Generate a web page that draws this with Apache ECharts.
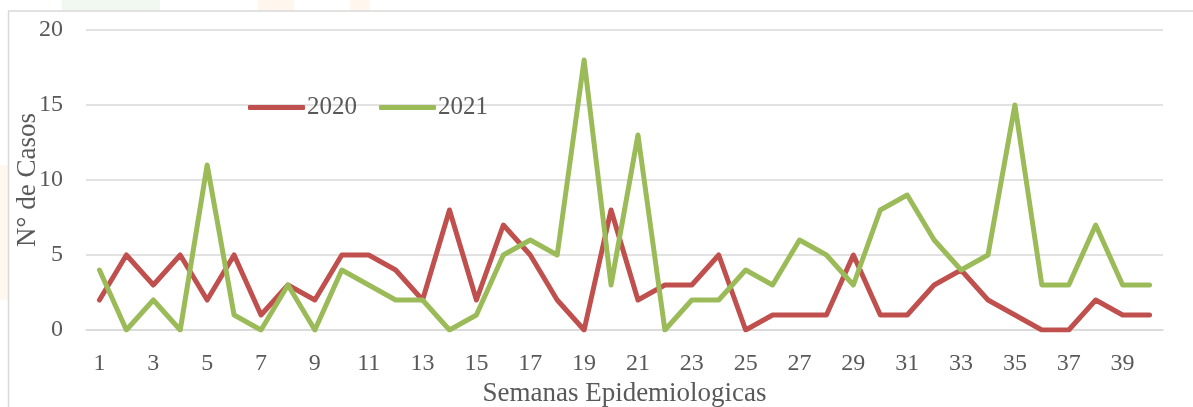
<!DOCTYPE html>
<html>
<head>
<meta charset="utf-8">
<script src="https://cdn.jsdelivr.net/npm/echarts@6/dist/echarts.min.js"></script>
<style>
html,body{margin:0;padding:0;background:#fff;}
#chart{width:1193px;height:407px;}
</style>
</head>
<body>
<div id="chart"></div>
<script>
const weeks = Array.from({length: 40}, (_, i) => String(i + 1));
const cases2020 = [2,5,3,5,2,5,1,3,2,5,5,4,2,8,2,7,5,2,0,8,2,3,3,5,0,1,1,1,5,1,1,3,4,2,1,0,0,2,1,1];
const cases2021 = [4,0,2,0,11,1,0,3,0,4,3,2,2,0,1,5,6,5,18,3,13,0,2,2,4,3,6,5,3,8,9,6,4,5,15,3,3,7,3,3];
const yTicks = [0, 5, 10, 15, 20];

const FONT = 'Liberation Serif';
const TXT = '#595959';
const chart = echarts.init(document.getElementById('chart'), null, {renderer: 'canvas'});
chart.setOption({
  animation: false,
  backgroundColor: '#ffffff',
  graphic: [
    {type: 'rect', shape: {x: 62, y: 0, width: 98, height: 11}, style: {fill: '#f1f8f1'}, z: -10},
    {type: 'rect', shape: {x: 258, y: 0, width: 36, height: 11}, style: {fill: '#fff7ee'}, z: -10},
    {type: 'rect', shape: {x: 350, y: 0, width: 20, height: 11}, style: {fill: '#fff7ee'}, z: -10},
    {type: 'rect', shape: {x: 0, y: 165, width: 8, height: 135}, style: {fill: '#fff7f0'}, z: -10},
    {type: 'polyline', shape: {points: [[8, 11], [1193, 11]]}, style: {stroke: '#d9d9d9', lineWidth: 1.5}, z: -5},
    {type: 'polyline', shape: {points: [[8.5, 11], [8.5, 407]]}, style: {stroke: '#d9d9d9', lineWidth: 1.5}, z: -5}
  ],
  legend: {
    data: ['2020', '2021'],
    left: 243, top: 90,
    itemWidth: 57, itemHeight: 5, itemGap: 22,
    icon: 'roundRect',
    textStyle: {fontFamily: FONT, fontSize: 25, color: TXT, padding: [0, 0, 0, -3]},
    backgroundColor: 'transparent'
  },
  grid: {left: 86, right: 30, top: 30, bottom: 77, containLabel: false, outerBoundsMode: 'none'},
  xAxis: {
    type: 'category',
    data: weeks,
    boundaryGap: true,
    name: 'Semanas Epidemiologicas',
    nameLocation: 'middle',
    nameGap: 50,
    nameTextStyle: {fontFamily: FONT, fontSize: 27, color: TXT},
    axisLine: {lineStyle: {color: '#d9d9d9', width: 1.5}},
    axisTick: {show: false},
    axisLabel: {interval: 1, fontFamily: FONT, fontSize: 24, color: TXT, margin: 22}
  },
  yAxis: {
    type: 'value',
    min: 0, max: 20, interval: 5,
    name: 'N° de Casos',
    nameLocation: 'middle',
    nameGap: 45,
    nameMoveOverlap: false,
    nameRotate: 90,
    nameTextStyle: {fontFamily: FONT, fontSize: 27, color: TXT},
    axisLine: {show: false},
    axisTick: {show: false},
    axisLabel: {fontFamily: FONT, fontSize: 24, color: TXT, margin: 23,
      formatter: v => yTicks.includes(v) ? String(v) : ''},
    splitLine: {lineStyle: {color: '#d9d9d9', width: 1.5}}
  },
  series: [
    {name: '2020', type: 'line', data: cases2020, symbol: 'none',
      lineStyle: {color: '#c0504d', width: 5, cap: 'round', join: 'round'}, itemStyle: {color: '#c0504d'}},
    {name: '2021', type: 'line', data: cases2021, symbol: 'none',
      lineStyle: {color: '#9bbb59', width: 5, cap: 'round', join: 'round'}, itemStyle: {color: '#9bbb59'}}
  ]
});
</script>
</body>
</html>
